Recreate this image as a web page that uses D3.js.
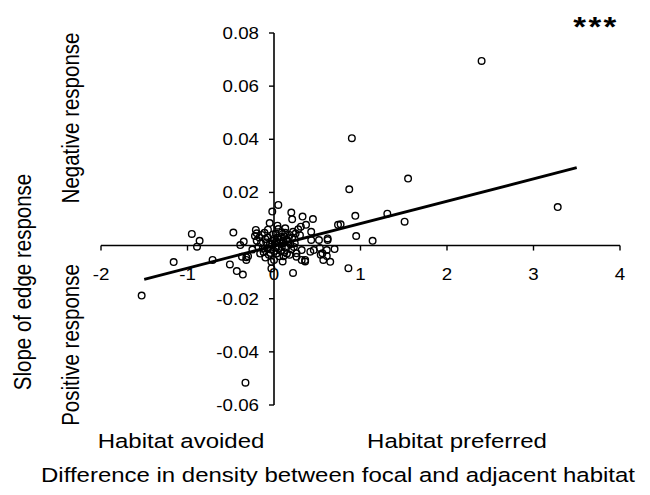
<!DOCTYPE html>
<html>
<head>
<meta charset="utf-8">
<script src="https://cdn.jsdelivr.net/npm/d3@7"></script>
<style>
  body { margin: 0; background: #ffffff; }
  svg { display: block; }
  text { font-family: "Liberation Sans", Arial, sans-serif; fill: #000000; }
</style>
</head>
<body>
<svg id="chart" width="650" height="495"></svg>
<script>
const X_TICKS = [-2, -1, 0, 1, 2, 3, 4];
const Y_TICKS = [-0.06, -0.04, -0.02, 0.02, 0.04, 0.06, 0.08];
const Y_TICK_LABELS = ["-0.06", "-0.04", "-0.02", "0.02", "0.04", "0.06", "0.08"];

// density difference (x) and slope of edge response (y)
const POINT_X = [
  2.40, 0.90, 1.55, 0.87, 3.28, 0.94, 1.31, 1.51, 0.77, 0.95,
  1.14, 0.62, 0.70, 0.56, 0.61, 0.86, 0.05, -0.02, 0.20, 0.21,
  0.33, 0.45, 0.37, 0.28, 0.43, -0.95, -0.86, -0.89, -0.47, -0.21,
  -0.35, -1.16, -0.71, -0.51, -0.43, -0.36, -0.32, -0.30, 0.00, 0.22,
  0.18, 0.26, 0.36, 0.32, 0.42, 0.43, 0.52, -1.53, 0.53, -0.33,
  0.74, -0.20, -0.22, -0.39, 0.15, 0.24, 0.62, 0.61, 0.54, 0.46,
  0.26, 0.32, 0.36, -0.32, -0.37, -0.03, -0.03, 0.57, 0.65, 0.31,
  0.22, 0.30, -0.15, -0.10, -0.08, -0.05, -0.02, 0.02, 0.04, 0.06,
  0.08, 0.10, 0.12, 0.14, 0.16, 0.18, 0.09, -0.12, -0.18, -0.06,
  0.03, 0.11, -0.01, 0.07, -0.25, -0.14, 0.20, 0.05, -0.07, 0.13,
  -0.04, 0.01, -0.09,
  // dense core around the origin
  -0.17, -0.13, -0.11, -0.07, -0.04, -0.03, 0.00, 0.00, 0.02, 0.03,
  0.05, 0.06, 0.08, 0.09, 0.11, 0.12, 0.13, 0.15, 0.17, 0.19,
  0.21, 0.23, -0.20, -0.16, 0.04, -0.05, 0.10, -0.10, 0.25
];
const POINT_Y = [
  0.0695, 0.0404, 0.0252, 0.0212, 0.0145, 0.0112, 0.0120, 0.0090, 0.0080, 0.0036,
  0.0018, 0.0021, -0.0013, -0.0029, -0.0039, -0.0085, 0.0153, 0.0128, 0.0124, 0.0099,
  0.0109, 0.0100, 0.0078, 0.0061, 0.0052, 0.0044, 0.0018, -0.0004, 0.0049, 0.0059,
  0.0015, -0.0062, -0.0054, -0.0071, -0.0096, -0.0109, -0.0044, -0.0040, -0.0054, -0.0103,
  -0.0035, -0.0042, -0.0054, -0.0017, -0.0023, 0.0021, 0.0021, -0.0188, -0.0009, -0.0516,
  0.0078, 0.0046, 0.0036, 0.0002, 0.0021, 0.0009, 0.0027, -0.0017, -0.0035, -0.0017,
  -0.0029, -0.0054, -0.0060, -0.0054, -0.0042, -0.0061, -0.0086, -0.0054, -0.0061, 0.0071,
  0.0052, 0.0039, 0.0010, 0.0025, -0.0010, 0.0005, 0.0018, -0.0005, 0.0030, 0.0012,
  -0.0020, 0.0008, 0.0035, -0.0008, 0.0015, 0.0040, 0.0050, -0.0025, -0.0005, -0.0035,
  -0.0030, -0.0040, 0.0042, 0.0022, -0.0015, 0.0040, -0.0015, 0.0062, 0.0060, 0.0065,
  -0.0015, 0.0010, 0.0012,
  0.0030, -0.0012, 0.0048, 0.0030, -0.0028, 0.0008, 0.0025, -0.0020, 0.0045, 0.0015,
  -0.0012, -0.0040, 0.0032, -0.0005, 0.0018, -0.0025, 0.0048, -0.0030, 0.0028, 0.0005,
  0.0030, -0.0005, 0.0018, -0.0030, 0.0075, 0.0085, -0.0060, -0.0045, 0.0045
];

// fitted regression line
const FIT_SLOPE = 0.0084;
const FIT_INTERCEPT = -0.0001;
const FIT_RANGE = [-1.5, 3.5];

const SIGNIFICANCE = "***";
const X_TITLE = "Difference in density between focal and adjacent habitat";
const X_SUBTITLES = ["Habitat avoided", "Habitat preferred"];
const Y_TITLE = "Slope of edge response";
const Y_SUBTITLES = ["Negative response", "Positive response"];

// the source figure is stretched sideways, so text is widened to match
const STRETCH = 1.17;


function drawChart() {
  const svg = d3.select("#chart");

  const xScale = d3.scaleLinear().domain([-2, 4]).range([101, 620]);
  const yScale = d3.scaleLinear().domain([-0.06, 0.08]).range([405, 33]);

  const x0 = xScale(0);
  const y0 = yScale(0);

  // points first, fit line over them
  svg.append("g")
    .selectAll("circle")
    .data(POINT_X.map((x, i) => [x, POINT_Y[i]]))
    .join("circle")
    .attr("cx", (d) => xScale(d[0]))
    .attr("cy", (d) => yScale(d[1]))
    .attr("r", 3.3)
    .attr("fill", "none")
    .attr("stroke", "#000")
    .attr("stroke-width", 1.4);

  const line = d3.line()
    .x((d) => xScale(d))
    .y((d) => yScale(FIT_SLOPE * d + FIT_INTERCEPT));

  svg.append("path")
    .datum(FIT_RANGE)
    .attr("d", line)
    .attr("fill", "none")
    .attr("stroke", "#000")
    .attr("stroke-width", 2.8);

  // x axis crosses at y = 0, ticks pointing down
  const xAxis = svg.append("g").attr("transform", "translate(0," + y0 + ")");
  xAxis.append("line")
    .attr("x1", xScale(-2)).attr("x2", xScale(4))
    .attr("stroke", "#000").attr("stroke-width", 1.4);
  xAxis.selectAll(".xtick")
    .data(X_TICKS)
    .join("line")
    .attr("x1", (d) => xScale(d)).attr("x2", (d) => xScale(d))
    .attr("y1", 0).attr("y2", 5)
    .attr("stroke", "#000").attr("stroke-width", 1.4);
  xAxis.selectAll(".xlabel")
    .data(X_TICKS)
    .join("text")
    .attr("transform", (d) => "translate(" + xScale(d) + ",34) scale(" + STRETCH + ",1)")
    .attr("text-anchor", "middle")
    .style("font-size", "16px")
    .text((d) => d);

  // y axis crosses at x = 0, ticks pointing left
  const yAxis = svg.append("g").attr("transform", "translate(" + x0 + ",0)");
  yAxis.append("line")
    .attr("y1", yScale(-0.06)).attr("y2", yScale(0.08))
    .attr("stroke", "#000").attr("stroke-width", 1.6);
  yAxis.selectAll(".ytick")
    .data(Y_TICKS)
    .join("line")
    .attr("x1", -5).attr("x2", 0)
    .attr("y1", (d) => yScale(d)).attr("y2", (d) => yScale(d))
    .attr("stroke", "#000").attr("stroke-width", 1.4);
  yAxis.selectAll(".ylabel")
    .data(Y_TICKS)
    .join("text")
    .attr("transform", (d) => "translate(-15," + (yScale(d) + 6) + ") scale(" + STRETCH + ",1)")
    .attr("text-anchor", "end")
    .style("font-size", "16px")
    .text((d, i) => Y_TICK_LABELS[i]);

  // titles
  const flatText = (x, y, size, str) => svg.append("text")
    .attr("transform", "translate(" + x + "," + y + ") scale(" + STRETCH + ",1)")
    .attr("text-anchor", "middle")
    .style("font-size", size + "px")
    .text(str);

  const upText = (x, y, size, str) => svg.append("text")
    .attr("transform", "translate(" + x + "," + y + ") rotate(-90) scale(1," + STRETCH + ")")
    .attr("text-anchor", "middle")
    .style("font-size", size + "px")
    .text(str);

  flatText(181, 448, 20.5, X_SUBTITLES[0]);
  flatText(457, 448, 20.5, X_SUBTITLES[1]);
  flatText(338, 482, 20.5, X_TITLE);

  upText(31, 282, 20.5, Y_TITLE);
  upText(79, 118, 20.5, Y_SUBTITLES[0]);
  upText(79, 345, 20.5, Y_SUBTITLES[1]);

  svg.append("text")
    .attr("transform", "translate(596,36) scale(" + STRETCH + ",1)")
    .attr("text-anchor", "middle")
    .style("font-size", "28px")
    .style("font-weight", "bold")
    .style("letter-spacing", "2px")
    .text(SIGNIFICANCE);
}

drawChart();
</script>
</body>
</html>
